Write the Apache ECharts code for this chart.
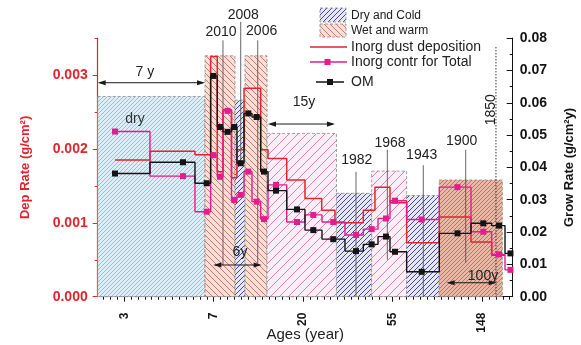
<!DOCTYPE html>
<html><head><meta charset="utf-8">
<script src="https://cdn.jsdelivr.net/npm/echarts@6/dist/echarts.min.js"></script>
<style>html,body{margin:0;padding:0;background:#fff}#c{width:581px;height:345px}</style>
</head><body><div id="c"></div>
<script>
// x axis is ln(age in years)
const xTickPos = [1, 2, 3, 4, 5];
const xTickLabels = ['3', '7', '20', '55', '148'];
const depTickVals = [0, 0.001, 0.002, 0.003];
const depTickLabels = ['0.000', '0.001', '0.002', '0.003'];
const growTickVals = [0, 0.01, 0.02, 0.03, 0.04, 0.05, 0.06, 0.07, 0.08];
const growTickLabels = ['0.00', '0.01', '0.02', '0.03', '0.04', '0.05', '0.06', '0.07', '0.08'];

// climate periods (Dep Rate units for the top)
const periodStart = [0.704, 1.903, 2.238, 2.350, 2.596, 3.372, 3.765, 4.156, 4.521];
const periodEnd   = [1.903, 2.238, 2.350, 2.596, 3.372, 3.765, 4.156, 4.521, 5.225];
const periodTop   = [0.00271, 0.00326, 0.00266, 0.00326, 0.00221, 0.00140, 0.00170, 0.00137, 0.00158];
const periodKind  = ['dry', 'wet', 'cold', 'wet', 'pink', 'cold', 'pink', 'cold', 'wetDense'];

// Inorg dust deposition (g/cm2), step segments
const dustEdges = [0.897, 1.288, 1.791, 1.966, 2.040, 2.104, 2.199, 2.260, 2.339, 2.525, 2.607, 2.816, 3.020, 3.207, 3.355, 3.672, 3.802, 3.970, 4.156, 4.521, 4.875, 5.106, 5.255];
const dustVals  = [0.00185, 0.00197, 0.00192, 0.00325, 0.00169, 0.00253, 0.00161, 0.00199, 0.00282, 0.00199, 0.00187, 0.00158, 0.00133, 0.00117, 0.00100, 0.00117, 0.00148, 0.00127, 0.00073, 0.00108, 0.00074, 0.00056];

// samples: Inorg contr for Total and OM (g/cm2 y)
const sampleEdges = [0.897, 1.288, 1.791, 1.966, 2.040, 2.104, 2.199, 2.260, 2.339, 2.428, 2.525, 2.607, 2.816, 3.020, 3.210, 3.467, 3.672, 3.836, 3.970, 4.156, 4.521, 4.875, 5.106, 5.255, 5.341];
const sampleMarkX = [0.897, 1.657, 1.922, 1.996, 2.070, 2.155, 2.230, 2.302, 2.387, 2.480, 2.562, 2.696, 2.931, 3.113, 3.336, 3.590, 3.765, 3.925, 4.026, 4.324, 4.724, 5.012, 5.188, 5.316];
const inorgVals = [0.0511, 0.0373, 0.0263, 0.0438, 0.0371, 0.0575, 0.0299, 0.0315, 0.0387, 0.0294, 0.0240, 0.0346, 0.0231, 0.0253, 0.0231, 0.0191, 0.0209, 0.0242, 0.0297, 0.0239, 0.0339, 0.0201, 0.0131, 0.0083];
const omVals    = [0.0381, 0.0416, 0.0351, 0.0683, 0.0525, 0.0510, 0.0525, 0.0413, 0.0567, 0.0556, 0.0387, 0.0328, 0.0270, 0.0206, 0.0178, 0.0141, 0.0162, 0.0186, 0.0139, 0.0077, 0.0196, 0.0227, 0.0220, 0.0134];

// year marks
const yearNames  = ['2010', '2008', '2006', '1982', '1968', '1943', '1900', '1850'];
const yearX      = [2.104, 2.302, 2.492, 3.590, 3.940, 4.342, 4.816, 5.154];
const yearTop    = [0.00347, 0.00372, 0.00347, 0.00169, 0.00199, 0.00178, 0.00199, 0.00338];
const yearBottom = [0.00043, 0.00181, 0.00043, 0, 0.00050, 0, 0.00046, 0];
const yearLabelX = [2.082, 2.331, 2.536, 3.598, 3.970, 4.324, 4.771, 5.098];
const yearLabelY = [0.00358, 0.00381, 0.00359, 0.00185, 0.00208, 0.00192, 0.00210, 0.00253];

// duration arrows
const arrowText  = ['7 y', '15y', '6y', '100y'];
const arrowStart = [0.704, 2.607, 1.996, 4.603];
const arrowEnd   = [1.903, 3.355, 2.536, 5.162];
const arrowY     = [0.002896, 0.002337, 0.000429, 0.000189];
const arrowTextX = [1.232, 3.009, 2.294, 5.009];
const arrowTextY = [0.003041, 0.002635, 0.000605, 0.000280];

const noteText = ['dry'];
const noteX = [1.121];
const noteY = [0.00240];

const FONT = '"Liberation Sans", Arial, Helvetica, sans-serif';
const RED = '#e2252c';
const MAG = '#e41d8d';
const BLK = '#141414';

function hatch(bg, line, s, dir, w) {
  const c = document.createElement('canvas');
  c.width = s; c.height = s;
  const g = c.getContext('2d');
  g.fillStyle = bg; g.fillRect(0, 0, s, s);
  g.strokeStyle = line; g.lineWidth = w;
  g.beginPath();
  if (dir === '/') {
    g.moveTo(0, s); g.lineTo(s, 0);
    g.moveTo(-s / 2, s / 2); g.lineTo(s / 2, -s / 2);
    g.moveTo(s / 2, s * 1.5); g.lineTo(s * 1.5, s / 2);
  } else {
    g.moveTo(0, 0); g.lineTo(s, s);
    g.moveTo(-s / 2, s / 2); g.lineTo(s / 2, s * 1.5);
    g.moveTo(s / 2, -s / 2); g.lineTo(s * 1.5, s / 2);
  }
  g.stroke();
  return { image: c, repeat: 'repeat' };
}
const patterns = {
  dry: hatch('#dbeff5', '#86bccf', 4, '/', 0.9),
  wet: hatch('#f7e0d8', '#c97b68', 6, '\\', 1),
  cold: hatch('#e7e7f4', '#4348a2', 5, '/', 1),
  pink: hatch('#fdeef6', '#d783bb', 9, '/', 1),
  wetDense: hatch('#eab8a9', '#c46e5e', 4, '/', 1)
};

function stepData(edges, vals) {
  const d = vals.map((v, i) => [edges[i], v]);
  d.push([edges[vals.length], vals[vals.length - 1]]);
  return d;
}

const minorX = [];
for (let k = Math.ceil(0.704 * 13); k <= Math.floor(5.341 * 13); k++) {
  if (k % 13 !== 0) minorX.push(k / 13);
}

const chart = echarts.init(document.getElementById('c'), null, { renderer: 'canvas' });

const option = {
  animation: false,
  backgroundColor: '#fff',
  grid: { left: 97.7, right: 68.3, top: 38.1, bottom: 48.3, containLabel: false, outerBoundsMode: 'none' },
  xAxis: [
    {
      type: 'value', min: 0.704, max: 5.341, position: 'bottom',
      axisLine: { show: true, lineStyle: { color: BLK, width: 1 } },
      axisTick: { show: true, customValues: xTickPos, length: 5, lineStyle: { color: BLK } },
      axisLabel: {
        customValues: xTickPos, rotate: 90, margin: 16,
        formatter: v => xTickLabels[xTickPos.findIndex(p => Math.abs(p - v) < 1e-6)],
        color: BLK, fontWeight: 'bold', fontSize: 12, fontFamily: FONT
      },
      splitLine: { show: false },
      name: 'Ages (year)', nameLocation: 'middle', nameGap: 31, nameMoveOverlap: false,
      nameTextStyle: { fontSize: 15, color: '#222', fontFamily: FONT }
    },
    {
      type: 'value', min: 0.704, max: 5.341, position: 'bottom',
      axisLine: { show: false },
      axisTick: { show: true, customValues: minorX, length: 3, lineStyle: { color: BLK } },
      axisLabel: { show: false }, splitLine: { show: false }
    }
  ],
  yAxis: [
    {
      type: 'value', min: 0, max: 0.0035, position: 'left',
      axisLine: { show: true, lineStyle: { color: RED, width: 1.2 } },
      axisTick: { show: true, customValues: depTickVals, length: 5, lineStyle: { color: RED } },
      axisLabel: {
        customValues: depTickVals, margin: 10,
        formatter: v => depTickLabels[depTickVals.findIndex(p => Math.abs(p - v) < 1e-9)],
        color: RED, fontWeight: 'bold', fontSize: 14, fontFamily: FONT
      },
      splitLine: { show: false },
      name: 'Dep Rate (g/cm²)', nameLocation: 'middle', nameGap: 66, nameRotate: 90, nameMoveOverlap: false,
      nameTextStyle: { color: RED, fontWeight: 'bold', fontSize: 13, fontFamily: FONT }
    },
    {
      type: 'value', min: 0, max: 0.0035, position: 'left',
      axisLine: { show: false },
      axisTick: { show: true, customValues: [0.0005, 0.0015, 0.0025, 0.0035], length: 3, lineStyle: { color: RED } },
      axisLabel: { show: false }, splitLine: { show: false }
    },
    {
      type: 'value', min: 0, max: 0.08, position: 'right',
      axisLine: { show: true, lineStyle: { color: BLK, width: 1 } },
      axisTick: { show: true, inside: true, customValues: growTickVals, length: 6, lineStyle: { color: BLK } },
      axisLabel: {
        customValues: growTickVals, margin: 7,
        formatter: v => growTickLabels[growTickVals.findIndex(p => Math.abs(p - v) < 1e-9)],
        color: BLK, fontWeight: 'bold', fontSize: 14, fontFamily: FONT
      },
      splitLine: { show: false },
      name: 'Grow Rate (g/cm²y)', nameLocation: 'middle', nameGap: 50, nameRotate: 90, nameMoveOverlap: false,
      nameTextStyle: { color: BLK, fontWeight: 'bold', fontSize: 13, fontFamily: FONT }
    },
    {
      type: 'value', min: 0, max: 0.08, position: 'right',
      axisLine: { show: false },
      axisTick: { show: true, inside: true, customValues: [0.005, 0.015, 0.025, 0.035, 0.045, 0.055, 0.065, 0.075], length: 3, lineStyle: { color: BLK } },
      axisLabel: { show: false }, splitLine: { show: false }
    }
  ],
  series: [
    {
      type: 'custom', name: 'periods', xAxisIndex: 0, yAxisIndex: 0, z: 1,
      data: periodStart.map((s, i) => [s, periodEnd[i], periodTop[i]]),
      encode: { x: [0, 1], y: 2 },
      renderItem: (params, api) => {
        const i = params.dataIndex;
        const p0 = api.coord([periodStart[i], periodTop[i]]);
        const p1 = api.coord([periodEnd[i], 0]);
        return {
          type: 'rect',
          shape: { x: p0[0], y: p0[1], width: p1[0] - p0[0], height: p1[1] - p0[1] },
          style: { fill: patterns[periodKind[i]], stroke: '#8c8c8c', lineWidth: 0.8, lineDash: [3, 2] }
        };
      }
    },
    {
      type: 'custom', name: 'years', xAxisIndex: 0, yAxisIndex: 0, z: 2, clip: false,
      data: yearX.map((x, i) => [x, yearTop[i]]),
      renderItem: (params, api) => {
        const i = params.dataIndex;
        const a = api.coord([yearX[i], yearTop[i]]);
        const b = api.coord([yearX[i], yearBottom[i]]);
        const l = api.coord([yearLabelX[i], yearLabelY[i]]);
        const dotted = yearNames[i] === '1850';
        return {
          type: 'group',
          children: [
            { type: 'line', shape: { x1: a[0], y1: a[1], x2: b[0], y2: b[1] },
              style: { stroke: dotted ? '#333' : '#555', lineWidth: dotted ? 1 : 0.9, lineDash: dotted ? [1.5, 1.5] : null } },
            { type: 'text', x: l[0], y: l[1], rotation: dotted ? Math.PI / 2 : 0,
              style: { text: yearNames[i], align: 'center', verticalAlign: 'middle', fontSize: 14, fontFamily: FONT, fill: '#222' } }
          ]
        };
      }
    },
    {
      type: 'line', name: 'Inorg dust deposition', xAxisIndex: 0, yAxisIndex: 0, z: 3,
      step: 'end', showSymbol: false, data: stepData(dustEdges, dustVals),
      lineStyle: { color: RED, width: 1.5 }
    },
    {
      type: 'line', name: 'Inorg contr for Total', xAxisIndex: 0, yAxisIndex: 2, z: 3,
      step: 'end', showSymbol: false, data: stepData(sampleEdges, inorgVals),
      lineStyle: { color: MAG, width: 1.4 }
    },
    {
      type: 'line', name: 'OM', xAxisIndex: 0, yAxisIndex: 2, z: 3,
      step: 'end', showSymbol: false, data: stepData(sampleEdges, omVals),
      lineStyle: { color: BLK, width: 1.4 }
    },
    {
      type: 'scatter', name: 'Inorg contr markers', xAxisIndex: 0, yAxisIndex: 2, z: 4,
      symbol: 'rect', symbolSize: 6, data: sampleMarkX.map((x, i) => [x, inorgVals[i]]),
      itemStyle: { color: MAG, opacity: 1 }
    },
    {
      type: 'scatter', name: 'OM markers', xAxisIndex: 0, yAxisIndex: 2, z: 4,
      symbol: 'rect', symbolSize: 6, data: sampleMarkX.map((x, i) => [x, omVals[i]]),
      itemStyle: { color: BLK, opacity: 1 }
    },
    {
      type: 'custom', name: 'arrows', xAxisIndex: 0, yAxisIndex: 0, z: 5, clip: false,
      data: arrowStart.map((s, i) => [s, arrowY[i]]),
      renderItem: (params, api) => {
        const i = params.dataIndex;
        const a = api.coord([arrowStart[i], arrowY[i]]);
        const b = api.coord([arrowEnd[i], arrowY[i]]);
        const t = api.coord([arrowTextX[i], arrowTextY[i]]);
        const c = '#1a1a1a';
        return {
          type: 'group',
          children: [
            { type: 'line', shape: { x1: a[0] + 2, y1: a[1], x2: b[0] - 2, y2: b[1] }, style: { stroke: c, lineWidth: 1 } },
            { type: 'polygon', shape: { points: [[a[0], a[1]], [a[0] + 8, a[1] - 2.6], [a[0] + 8, a[1] + 2.6]] }, style: { fill: c } },
            { type: 'polygon', shape: { points: [[b[0], b[1]], [b[0] - 8, b[1] - 2.6], [b[0] - 8, b[1] + 2.6]] }, style: { fill: c } },
            { type: 'text', x: t[0], y: t[1], style: { text: arrowText[i], align: 'center', verticalAlign: 'middle', fontSize: 14, fontFamily: FONT, fill: '#222' } }
          ]
        };
      }
    },
    {
      type: 'custom', name: 'notes', xAxisIndex: 0, yAxisIndex: 0, z: 5,
      data: noteX.map((x, i) => [x, noteY[i]]),
      renderItem: (params, api) => {
        const i = params.dataIndex;
        const p = api.coord([noteX[i], noteY[i]]);
        return { type: 'text', x: p[0], y: p[1], style: { text: noteText[i], align: 'center', verticalAlign: 'middle', fontSize: 14, fontFamily: FONT, fill: '#333' } };
      }
    }
  ],
  graphic: [
    { type: 'rect', shape: { x: 320, y: 8, width: 26, height: 14 }, style: { fill: patterns.cold, stroke: '#8c8c8c', lineWidth: 0.8, lineDash: [3, 2] } },
    { type: 'text', x: 351, y: 15.5, style: { text: 'Dry and Cold', fontSize: 12, fontFamily: FONT, fill: '#222', verticalAlign: 'middle' } },
    { type: 'rect', shape: { x: 320, y: 24, width: 26, height: 13 }, style: { fill: patterns.wet, stroke: '#8c8c8c', lineWidth: 0.8, lineDash: [3, 2] } },
    { type: 'text', x: 351, y: 31, style: { text: 'Wet and warm', fontSize: 12, fontFamily: FONT, fill: '#222', verticalAlign: 'middle' } },
    { type: 'line', shape: { x1: 310, y1: 47, x2: 347, y2: 47 }, style: { stroke: RED, lineWidth: 1.5 } },
    { type: 'text', x: 351, y: 47, style: { text: 'Inorg dust deposition', fontSize: 14, fontFamily: FONT, fill: '#222', verticalAlign: 'middle' } },
    { type: 'line', shape: { x1: 310, y1: 62, x2: 347, y2: 62 }, style: { stroke: MAG, lineWidth: 1.5 } },
    { type: 'rect', shape: { x: 324.5, y: 59, width: 6, height: 6 }, style: { fill: MAG } },
    { type: 'text', x: 351, y: 62, style: { text: 'Inorg contr for Total', fontSize: 14, fontFamily: FONT, fill: '#222', verticalAlign: 'middle' } },
    { type: 'line', shape: { x1: 316, y1: 82, x2: 344, y2: 82 }, style: { stroke: BLK, lineWidth: 1.5 } },
    { type: 'rect', shape: { x: 327, y: 79, width: 6, height: 6 }, style: { fill: BLK } },
    { type: 'text', x: 351, y: 82, style: { text: 'OM', fontSize: 14, fontFamily: FONT, fill: '#222', verticalAlign: 'middle' } }
  ]
};
chart.setOption(option);
</script>
</body></html>
